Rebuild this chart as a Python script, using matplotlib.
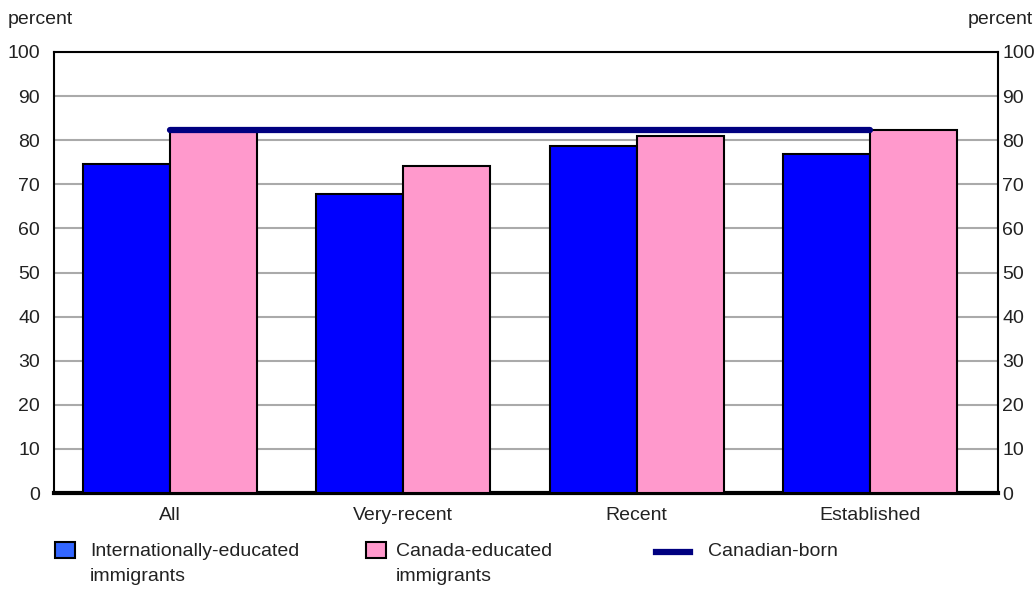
import matplotlib
matplotlib.use("Agg")
import matplotlib.pyplot as plt
from matplotlib.patches import Rectangle
from matplotlib.lines import Line2D
from matplotlib import font_manager

categories = ["All", "Very-recent", "Recent", "Established"]
intl_educated = [74.6, 67.8, 78.7, 76.9]
canada_educated = [82.1, 74.1, 81.0, 82.3]
canadian_born = 82.3
yticks = [0, 10, 20, 30, 40, 50, 60, 70, 80, 90, 100]

names = {f.name for f in font_manager.fontManager.ttflist}
family = ["Liberation Sans Narrow", "DejaVu Sans"] if "Liberation Sans Narrow" in names else ["Liberation Sans", "DejaVu Sans"]
plt.rcParams["font.family"] = family
fs = 14
txt = "#222222"

fig = plt.figure(figsize=(10.34, 5.89), dpi=100)
ax = fig.add_axes([54 / 1034, 96 / 589, 944 / 1034, 441 / 589])

x = list(range(len(categories)))
w = 0.373
ax.bar([i - w / 2 for i in x], intl_educated, width=w, color="#0000FF",
       edgecolor="black", linewidth=1.5, zorder=3)
ax.bar([i + w / 2 for i in x], canada_educated, width=w, color="#FF99CC",
       edgecolor="black", linewidth=1.5, zorder=3)
ax.plot([x[0], x[-1]], [canadian_born, canadian_born], color="#000080",
        linewidth=4.5, solid_capstyle="round", zorder=4)

ax.set_xlim(-0.497, 3.549)
ax.set_ylim(0, 100)
ax.set_yticks(yticks)
ax.set_xticks(x)
ax.set_xticklabels(categories, fontsize=fs)
ax.tick_params(axis="both", length=0, labelsize=fs, colors=txt)
ax.tick_params(axis="y", pad=10)
ax.tick_params(axis="x", pad=10)
ax.yaxis.grid(True, color="#AAAAAA", linewidth=1.5, zorder=0)
ax.set_axisbelow(True)
for s in ["left", "right", "top"]:
    ax.spines[s].set_linewidth(1.5)
    ax.spines[s].set_color("black")
ax.spines["bottom"].set_linewidth(3)

ax2 = ax.twinx()
ax2.set_ylim(0, 100)
ax2.set_yticks(yticks)
ax2.tick_params(axis="y", length=0, labelsize=fs, colors=txt, pad=3)
for s in ax2.spines.values():
    s.set_visible(False)

fig.text(8 / 1034, 1 - 19 / 589, "percent", fontsize=fs, va="center", ha="left", color=txt)
fig.text(1033 / 1034, 1 - 19 / 589, "percent", fontsize=fs, va="center", ha="right", color=txt)


# legend along the bottom
def px(xp, yp):
    return xp / 1034, 1 - yp / 589


fig.patches.append(Rectangle(px(55, 558), 20 / 1034, 16 / 589, transform=fig.transFigure,
                             facecolor="#3366FF", edgecolor="black", linewidth=1.5))
fig.text(*px(90, 543), "Internationally-educated\nimmigrants", fontsize=fs, va="top",
         ha="left", color=txt, linespacing=1.62)
fig.patches.append(Rectangle(px(366, 558), 20 / 1034, 16 / 589, transform=fig.transFigure,
                             facecolor="#FF99CC", edgecolor="black", linewidth=1.5))
fig.text(*px(396, 543), "Canada-educated\nimmigrants", fontsize=fs, va="top",
         ha="left", color=txt, linespacing=1.62)
fig.lines.append(Line2D([656 / 1034, 690 / 1034], [1 - 552 / 589, 1 - 552 / 589],
                        transform=fig.transFigure, color="#000080", linewidth=4.5))
fig.text(*px(708, 551), "Canadian-born", fontsize=fs, va="center", ha="left", color=txt)

fig.savefig("out.png", dpi=100)
